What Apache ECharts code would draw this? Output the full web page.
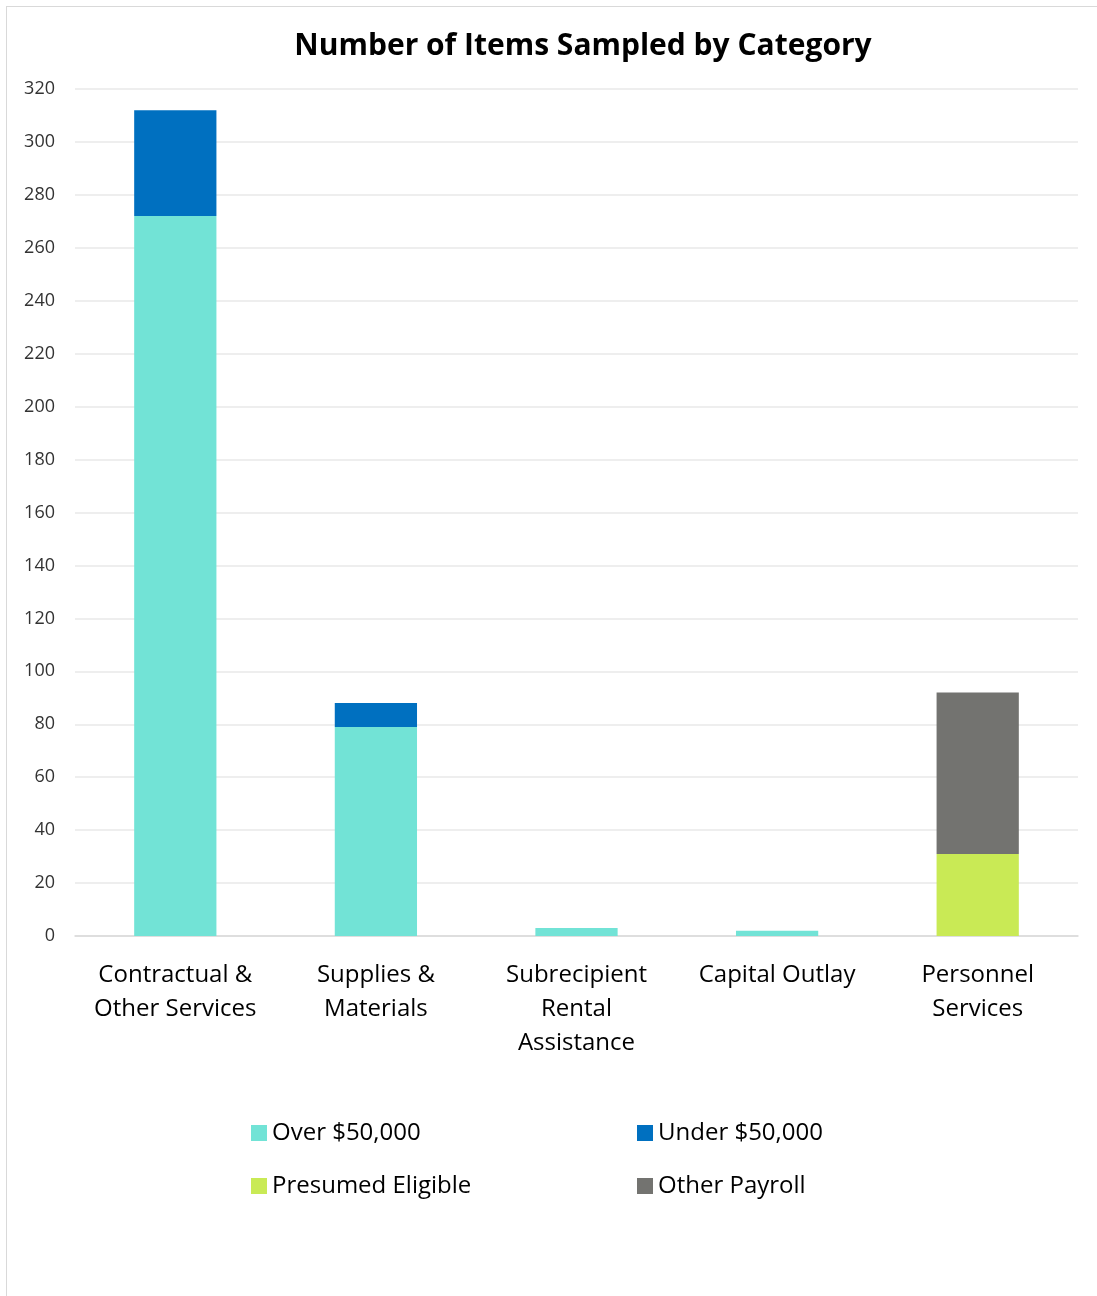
<!DOCTYPE html>
<html>
<head>
<meta charset="utf-8">
<script src="https://cdn.jsdelivr.net/npm/echarts@6/dist/echarts.min.js"></script>
<style>
html, body { margin: 0; padding: 0; background: #fff; }
#frame { position: absolute; left: 6px; top: 6px; width: 1100px; height: 1300px; border: 1px solid #d9d9d9; box-sizing: border-box; }
#chart { position: absolute; left: 0; top: 0; width: 1097px; height: 1296px; }
</style>
</head>
<body>
<div id="frame"></div>
<div id="chart"></div>
<script>
// 数据
var categories = ['Contractual &\nOther Services', 'Supplies &\nMaterials', 'Subrecipient\nRental\nAssistance', 'Capital Outlay', 'Personnel\nServices'];
var over50k = [272, 79, 3, 2, 0];
var under50k = [40, 9, 0, 0, 0];
var presumedEligible = [0, 0, 0, 0, 31];
var otherPayroll = [0, 0, 0, 0, 61];

var font = '"Open Sans", sans-serif';

var myChart = echarts.init(document.getElementById('chart'));
var option = {
    animation: false,
    textStyle: { fontFamily: font },
    title: {
        text: 'Number of Items Sampled by Category',
        left: 578,
        textAlign: 'center',
        top: 26,
        textStyle: { fontSize: 30, fontWeight: 'bold', color: '#000', fontFamily: font }
    },
    grid: {
        left: 75,
        right: 19,
        top: 89,
        bottom: 360
    },
    legend: [
        {
            orient: 'vertical',
            left: 246,
            top: 1116,
            itemGap: 29,
            itemWidth: 16,
            itemHeight: 16,
            icon: 'rect',
            textStyle: { fontSize: 24, color: '#000', fontFamily: font },
            data: ['Over $50,000', 'Presumed Eligible']
        },
        {
            orient: 'vertical',
            left: 632,
            top: 1116,
            itemGap: 29,
            itemWidth: 16,
            itemHeight: 16,
            icon: 'rect',
            textStyle: { fontSize: 24, color: '#000', fontFamily: font },
            data: ['Under $50,000', 'Other Payroll']
        }
    ],
    xAxis: {
        type: 'category',
        data: categories,
        axisLine: { lineStyle: { color: '#d9d9d9', width: 1.5 } },
        axisTick: { show: false },
        axisLabel: {
            fontSize: 24,
            color: '#000',
            lineHeight: 34,
            margin: 22,
            interval: 0,
            fontFamily: font
        }
    },
    yAxis: {
        type: 'value',
        min: 0,
        max: 320,
        interval: 20,
        axisLine: { show: false },
        axisTick: { show: false },
        splitLine: { lineStyle: { color: '#e8e8e8', width: 1.5 } },
        axisLabel: { fontSize: 18, color: '#333', margin: 20, fontFamily: font }
    },
    series: [
        {
            name: 'Over $50,000',
            type: 'bar',
            stack: 'total',
            barWidth: '41%',
            itemStyle: { color: '#72E3D6' },
            data: over50k
        },
        {
            name: 'Under $50,000',
            type: 'bar',
            stack: 'total',
            itemStyle: { color: '#0070C0' },
            data: under50k
        },
        {
            name: 'Presumed Eligible',
            type: 'bar',
            stack: 'total',
            itemStyle: { color: '#C9EA55' },
            data: presumedEligible
        },
        {
            name: 'Other Payroll',
            type: 'bar',
            stack: 'total',
            itemStyle: { color: '#737370' },
            data: otherPayroll
        }
    ]
};
myChart.setOption(option);
</script>
</body>
</html>
